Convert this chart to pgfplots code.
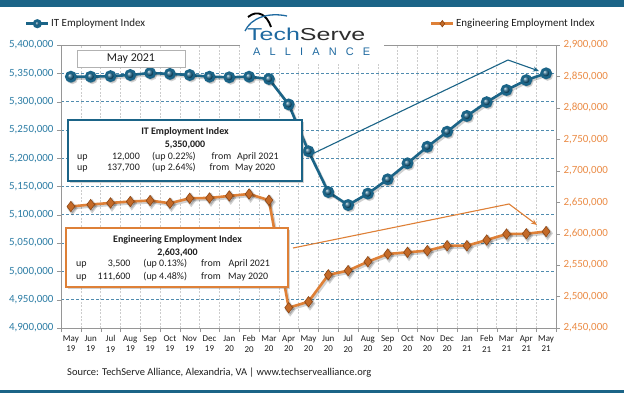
\documentclass[border=0pt]{standalone}
\usepackage{fontspec}
\setmainfont{Carlito}
\newfontfamily\logofont{Liberation Sans}
\usepackage{pgfplots}
\usepackage{pgfplotstable}
\pgfplotsset{compat=1.18}
\usetikzlibrary{arrows.meta,shadows}
\definecolor{itblue}{RGB}{27,100,135}
\definecolor{itmark}{RGB}{22,90,125}
\definecolor{itlab}{RGB}{45,125,165}
\definecolor{engline}{RGB}{222,128,55}
\definecolor{engmark}{RGB}{196,106,40}
\definecolor{engdark}{RGB}{140,70,20}
\definecolor{englab}{RGB}{235,140,70}
\definecolor{gridblue}{RGB}{80,140,175}
\definecolor{logoblue}{RGB}{30,105,160}
\definecolor{logogray}{RGB}{45,45,45}
\definecolor{txt}{RGB}{30,30,30}
\definecolor{frame}{RGB}{150,150,150}

\pgfplotstableread{
x it
0 5344000
1 5344000
2 5345000
3 5347000
4 5350500
5 5349000
6 5347000
7 5344000
8 5343000
9 5344000
10 5340000
11 5295000
12 5212300
13 5140300
14 5117300
15 5137500
16 5162700
17 5191000
18 5220300
19 5246800
20 5274600
21 5299000
22 5320500
23 5338000
24 5350000
}\itdata

\pgfplotstableread{
x eng
0 2643200
1 2646300
2 2648900
3 2651100
4 2652700
5 2648400
6 2656300
7 2656800
8 2660000
9 2663100
10 2653200
11 2482300
12 2491800
13 2534500
14 2541300
15 2555500
16 2567700
17 2570400
18 2573000
19 2580900
20 2580900
21 2589900
22 2599400
23 2599900
24 2603400
}\engdata

\pgfplotsset{
  common/.style={
    at={(61bp,-328bp)}, anchor=south west, scale only axis,
    width=495bp, height=283bp,
    xmin=-0.5, xmax=24.5,
    scaled y ticks=false,
    tick align=outside,
    major tick length=4bp, minor tick length=4bp,
    yticklabel style={font=\fontsize{11}{12}\selectfont,
      /pgf/number format/fixed, /pgf/number format/precision=0,
      /pgf/number format/1000 sep={,},
      /pgf/number format/assume math mode=true},
    legend style={draw=none, fill=none, inner sep=0pt, outer sep=0pt,
      font=\fontsize{11}{12}\selectfont, text=txt,
      nodes={inner sep=1.5bp}},
    legend image code/.code={
      \draw[##1, mark size=3.2bp, mark repeat=2, mark phase=2] plot coordinates {(0bp,0bp) (11bp,0bp) (22bp,0bp)};
    },
  }
}

\begin{document}
\begin{tikzpicture}
\fill[white] (0,0) rectangle (624bp,-393bp);

\begin{axis}[common,
  ymin=4900000, ymax=5400000,
  ytick={4900000,4950000,5000000,5050000,5100000,5150000,5200000,5250000,5300000,5350000,5400000},
  yticklabel style={text=itlab},
  xtick={0,...,24},
  xticklabels={May\\19,Jun\\19,Jul\\19,Aug\\19,Sep\\19,Oct\\19,Nov\\19,Dec\\19,Jan\\20,Feb\\20,Mar\\20,Apr\\20,May\\20,Jun\\20,Jul\\20,Aug\\20,Sep\\20,Oct\\20,Nov\\20,Dec\\20,Jan\\21,Feb\\21,Mar\\21,Apr\\21,May\\21},
  xticklabel style={align=center, font=\fontsize{9}{10.5}\selectfont, text=txt},
  minor xtick={-0.5,0.5,...,24.5},
  xminorgrids, ymajorgrids,
  minor x grid style={gray!40, dash pattern=on 2bp off 1.5bp, line width=0.5bp},
  y grid style={gridblue, dash pattern=on 3bp off 2bp, line width=0.7bp},
  axis line style={frame, line width=0.8bp},
  xtick pos=bottom, ytick pos=left,
  every major x tick/.append style={draw=none},
  every minor x tick/.append style={frame},
  every major y tick/.append style={frame},
  legend style={at={(axis description cs:-0.0727,1.0753)}, anchor=west},
]
\addplot[forget plot, black, opacity=0.18, line width=2.6bp, xshift=1.5bp, yshift=-1.8bp,
  mark=*, mark size=4.3bp] table[x=x,y=it]{\itdata};
\addplot[itblue, line width=2.6bp, mark=ball, mark size=4.6bp,
  mark options={ball color=itmark}] table[x=x,y=it]{\itdata};
\addlegendentry{IT Employment Index}
\end{axis}

\begin{axis}[common,
  ymin=2450000, ymax=2900000,
  ytick={2450000,2500000,2550000,2600000,2650000,2700000,2750000,2800000,2850000,2900000},
  yticklabel style={text=englab},
  axis y line*=right, axis x line=none,
  y axis line style={frame, line width=0.8bp},
  every major y tick/.append style={frame},
  legend style={at={(axis description cs:0.7455,1.0753)}, anchor=west},
]
\addplot[forget plot, black, opacity=0.18, line width=2.6bp, xshift=1.5bp, yshift=-1.8bp,
  mark=diamond*, mark size=5bp] table[x=x,y=eng]{\engdata};
\addplot[engline, line width=2.6bp, mark=diamond*, mark size=5.2bp,
  mark options={fill=engmark, draw=engdark, line width=0.6bp}] table[x=x,y=eng]{\engdata};
\addlegendentry{Engineering Employment Index}
\end{axis}

\begin{scope}[x=1bp, y=-1bp]
  % top and bottom bars
  \fill[itblue] (0,0.5) rectangle (624,6.5);
  \fill[itblue] (0,390) rectangle (624,393);
  % logo
  \fill[white] (240,8) rectangle (384,63);
  \draw[line width=1.9bp, black] (248,17) .. controls (258,9) and (267,15) .. (271,27);
  \draw[line width=1.3bp, logoblue] (245,31) .. controls (251,18) and (268,12) .. (287,16);
  \node[anchor=base west, inner sep=0pt] at (247,40.7)
    {\scalebox{1.45}[1]{\logofont\fontsize{17.3}{18}\selectfont\textcolor{logoblue}{Tech}\textcolor{logogray}{Serve}}};
  \node[anchor=base west, inner sep=0pt, text=logoblue] at (253,55)
    {\logofont\fontsize{11}{12}\selectfont\makebox[117bp][s]{A\hfill L\hfill L\hfill I\hfill A\hfill N\hfill C\hfill E}};

  % May 2021 box
  \draw[gray!60, fill=white, line width=0.6bp] (77,50) rectangle (185,67);
  \node[text=txt, font=\fontsize{12}{13}\selectfont] at (131,58.5) {May 2021};

  % callout lines
  \draw[itblue, line width=1.1bp, -{Stealth[length=6bp,width=5bp]}] (310,155) -- (508,60) -- (539,71);
  \draw[engline, line width=1.1bp, -{Stealth[length=6bp,width=5bp]}] (293,248) -- (509,204) -- (537,225);

  % IT box
  \draw[itblue, line width=1.4bp, fill=white, drop shadow={opacity=0.35, shadow xshift=2bp, shadow yshift=-2bp}] (68,120) rectangle (302,181);
  \begin{scope}[every node/.style={inner sep=0pt, text=txt, font=\fontsize{10}{11}\selectfont}]
    \node[anchor=base, font=\fontsize{10}{11}\selectfont\bfseries] at (185,134.5) {IT Employment Index};
    \node[anchor=base, font=\fontsize{10}{11}\selectfont\bfseries] at (185,147.2) {5,350,000};
    \node[anchor=base west] at (77,159.2) {up};
    \node[anchor=base east] at (140,159.2) {12,000};
    \node[anchor=base west] at (152,159.2) {(up 0.22\%)};
    \node[anchor=base west] at (211.5,159.2) {from};
    \node[anchor=base west] at (237,159.2) {April 2021};
    \node[anchor=base west] at (77,170.8) {up};
    \node[anchor=base east] at (140,170.8) {137,700};
    \node[anchor=base west] at (152,170.8) {(up 2.64\%)};
    \node[anchor=base west] at (209.5,170.8) {from};
    \node[anchor=base west] at (235,170.8) {May 2020};
  \end{scope}

  % Engineering box
  \draw[engline, line width=1.4bp, fill=white, drop shadow={opacity=0.35, shadow xshift=2bp, shadow yshift=-2bp}] (66,228) rectangle (288,287);
  \begin{scope}[every node/.style={inner sep=0pt, text=txt, font=\fontsize{10}{11}\selectfont}]
    \node[anchor=base, font=\fontsize{10}{11}\selectfont\bfseries] at (177.5,242.5) {Engineering Employment Index};
    \node[anchor=base, font=\fontsize{10}{11}\selectfont\bfseries] at (177.5,255.2) {2,603,400};
    \node[anchor=base west] at (76,266.8) {up};
    \node[anchor=base east] at (130.7,266.8) {3,500};
    \node[anchor=base west] at (143.3,266.8) {(up 0.13\%)};
    \node[anchor=base west] at (201,266.8) {from};
    \node[anchor=base west] at (228.3,266.8) {April 2021};
    \node[anchor=base west] at (76,279.5) {up};
    \node[anchor=base east] at (130.7,279.5) {111,600};
    \node[anchor=base west] at (143.3,279.5) {(up 4.48\%)};
    \node[anchor=base west] at (201,279.5) {from};
    \node[anchor=base west] at (228,279.5) {May 2020};
  \end{scope}

  % source
  \node[anchor=base west, inner sep=0pt, text=txt, font=\fontsize{10.5}{12}\selectfont] at (67,375.5)
    {Source: TechServe Alliance, Alexandria, VA | www.techservealliance.org};
\end{scope}

\pgfresetboundingbox
\useasboundingbox (0,0) rectangle (624bp,-393bp);
\end{tikzpicture}
\end{document}
